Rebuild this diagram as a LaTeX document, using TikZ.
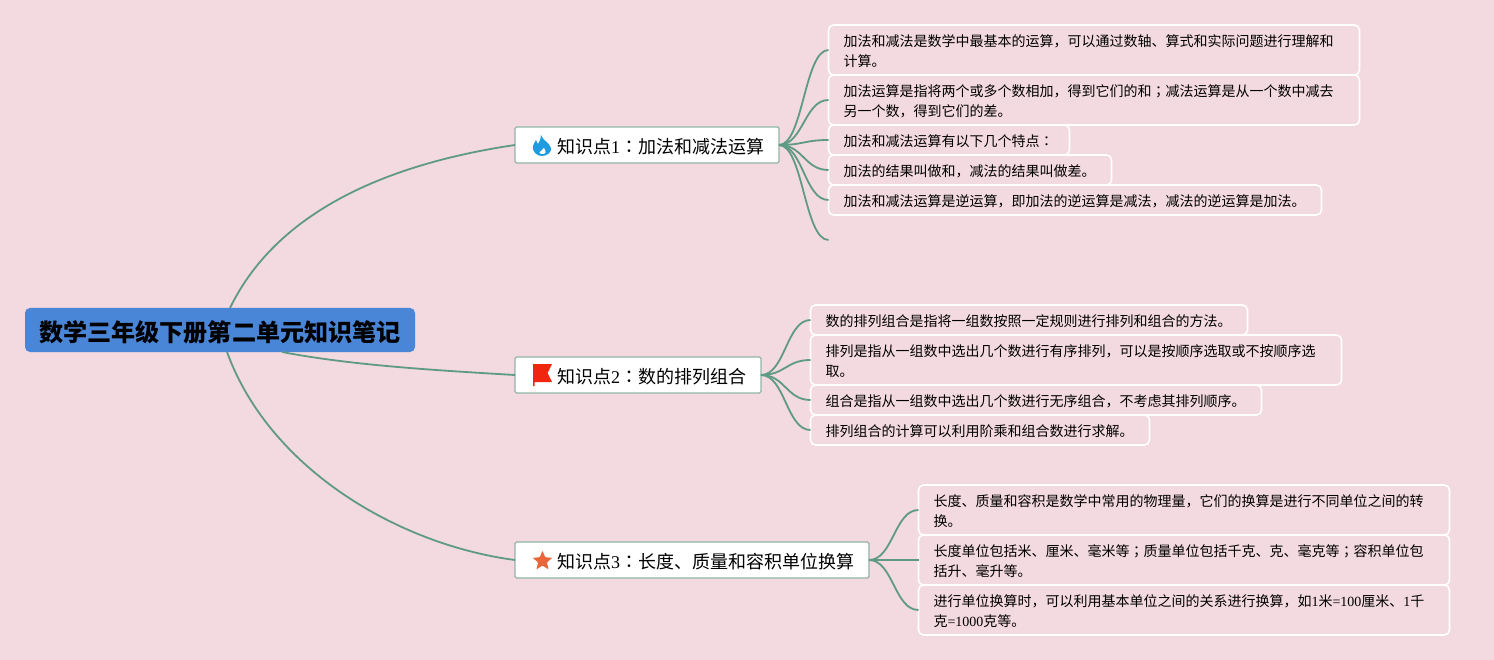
\documentclass[tikz,border=0pt]{standalone}
\usepackage{fontspec}
\setmainfont{Noto Sans CJK SC}
\newfontfamily\tcfont{Noto Sans CJK TC}
\newfontfamily\numfont{Liberation Serif}
\usetikzlibrary{shapes.geometric}
\definecolor{bgPink}{HTML}{F3D9E0}
\definecolor{rootBlue}{HTML}{4A86D8}
\definecolor{linkGreen}{HTML}{5F9A84}
\definecolor{topicEdge}{HTML}{93B5A8}
\definecolor{fireBlue}{HTML}{1F9BE0}
\definecolor{flagRed}{HTML}{F0260F}
\definecolor{starOrange}{HTML}{E8663A}
\newcommand{\cc}[1]{{\tcfont #1}}
\newcommand{\nm}[1]{{\numfont #1}}

\begin{document}
\begin{tikzpicture}[
        x=1pt,y=-1pt,
        every node/.style={inner sep=0pt,outer sep=0pt},
        root/.style={fill=rootBlue,rounded corners=5pt,anchor=west,align=center,
          minimum width=390pt,minimum height=44pt,font=\fontsize{24.1}{28}\selectfont\bfseries,
          execute at begin node={\rule{0pt}{26pt}}},
        topic/.style={draw=topicEdge,line width=1.4pt,fill=white,rounded corners=1.5pt,anchor=west,
          align=left,minimum height=36pt,font=\fontsize{18}{22}\selectfont,
          execute at begin node={\rule{0pt}{19pt}}},
        leaf/.style={draw=white,line width=1.6pt,rounded corners=5pt,anchor=north west,
          align=left,inner xsep=15pt,font=\fontsize{14}{20}\selectfont,
          execute at begin node={\rule{0pt}{15pt}}},
        link/.style={draw=linkGreen,line width=1.8pt}]
        \useasboundingbox (0,0) rectangle (1494,660);
        \fill[bgPink] (0,0) rectangle (1494,660);
        \node[root] (root) at (25,330) {数学三年级下册第二单元知识笔记};
        \coordinate (rootUp) at (230,308);
        \coordinate (rootMid) at (282,352);
        \coordinate (rootDown) at (227,352);
        % topics
        \node[topic,text width=264pt] (topicA) at (515,145) {\hspace*{42pt}知识点\nm{1}\cc{：}加法和减法运算};
        \node[topic,text width=246pt] (topicB) at (515,375) {\hspace*{42pt}知识点\nm{2}\cc{：}数的排列组合};
        \node[topic,text width=354pt] (topicC) at (515,560) {\hspace*{42pt}知识点\nm{3}\cc{：}长度、质量和容积单位换算};
        % leaves of topic 1
        \node[leaf,text width=501pt,minimum height=50pt] (leafAa) at (828.5,25) {加法和减法是数学中最基本的运算，可以通过数轴、算式和实际问题进行理解和\\计算。};
        \node[leaf,text width=501pt,minimum height=50pt] (leafAb) at (leafAa.south west) {加法运算是指将两个或多个数相加，得到它们的和\cc{；}减法运算是从一个数中减去\\另一个数，得到它们的差。};
        \node[leaf,text width=211pt,minimum height=30pt] (leafAc) at (leafAb.south west) {加法和减法运算有以下几个特点\cc{：}};
        \node[leaf,text width=253pt,minimum height=30pt] (leafAd) at (leafAc.south west) {加法的结果叫做和，减法的结果叫做差。};
        \node[leaf,text width=463pt,minimum height=30pt] (leafAe) at (leafAd.south west) {加法和减法运算是逆运算，即加法的逆运算是减法，减法的逆运算是加法。};
        \coordinate (leafAf) at (828.5,240);
        % leaves of topic 2
        \node[leaf,text width=407pt,minimum height=30pt] (leafBa) at (810.5,305) {数的排列组合是指将一组数按照一定规则进行排列和组合的方法。};
        \node[leaf,text width=501pt,minimum height=50pt] (leafBb) at (leafBa.south west) {排列是指从一组数中选出几个数进行有序排列，可以是按顺序选取或不按顺序选\\取。};
        \node[leaf,text width=421pt,minimum height=30pt] (leafBc) at (leafBb.south west) {组合是指从一组数中选出几个数进行无序组合，不考虑其排列顺序。};
        \node[leaf,text width=309pt,minimum height=30pt] (leafBd) at (leafBc.south west) {排列组合的计算可以利用阶乘和组合数进行求解。};
        % leaves of topic 3
        \node[leaf,text width=501pt,minimum height=50pt] (leafCa) at (918.5,485) {长度、质量和容积是数学中常用的物理量，它们的换算是进行不同单位之间的转\\换。};
        \node[leaf,text width=501pt,minimum height=50pt] (leafCb) at (leafCa.south west) {长度单位包括米、厘米、毫米等\cc{；}质量单位包括千克、克、毫克等\cc{；}容积单位包\\括升、毫升等。};
        \node[leaf,text width=501pt,minimum height=50pt] (leafCc) at (leafCb.south west) {进行单位换算时，可以利用基本单位之间的关系进行换算，如\nm{1}米\nm{=100}厘米、\nm{1}千\\克\nm{=1000}克等。};
        % icons
        \node[star,star points=5,star point ratio=2.3,fill=starOrange,rounded corners=1pt,minimum size=21pt] (iconStar) at (542.5,561) {};
        \fill[fireBlue] (541,135) .. controls (543,141) and (549,142) .. (551,148)
          .. controls (552,152) and (547,156) .. (542,156)
          .. controls (537,156) and (532,152) .. (533,146)
          .. controls (534,143) and (535,142) .. (536,140)
          .. controls (537,142) and (537,143) .. (538,144)
          .. controls (540,141) and (541,138) .. (541,135) -- cycle;
        \fill[white] (544,148) .. controls (545,150) and (546,151) .. (545.5,152.5)
          .. controls (545,154.5) and (540,154.5) .. (539.5,152.5)
          .. controls (539.5,151) and (543,150) .. (544,148) -- cycle;
        \fill[flagRed] (533,364) -- (552,364) -- (547.5,373) -- (552,382) -- (534.5,382) -- (534.5,386) -- (533,386) -- cycle;
        % connectors
        \draw[link] (rootUp) .. controls (280,205) and (400,162) .. (topicA.west);
        \draw[link] (rootMid) .. controls (350,365) and (430,370) .. (topicB.west);
        \draw[link] (rootDown) .. controls (270,470) and (400,545) .. (topicC.west);
        \foreach \leafname in {leafAa,leafAb,leafAc,leafAd,leafAe}
          \draw[link] (topicA.east) .. controls +(24,0) and +(-24,0) .. (\leafname.west);
        \draw[link] (topicA.east) .. controls +(24,0) and +(-24,0) .. (leafAf);
        \foreach \leafname in {leafBa,leafBb,leafBc,leafBd}
          \draw[link] (topicB.east) .. controls +(24,0) and +(-24,0) .. (\leafname.west);
        \foreach \leafname in {leafCa,leafCb,leafCc}
          \draw[link] (topicC.east) .. controls +(24,0) and +(-24,0) .. (\leafname.west);
      \end{tikzpicture}
\end{document}
